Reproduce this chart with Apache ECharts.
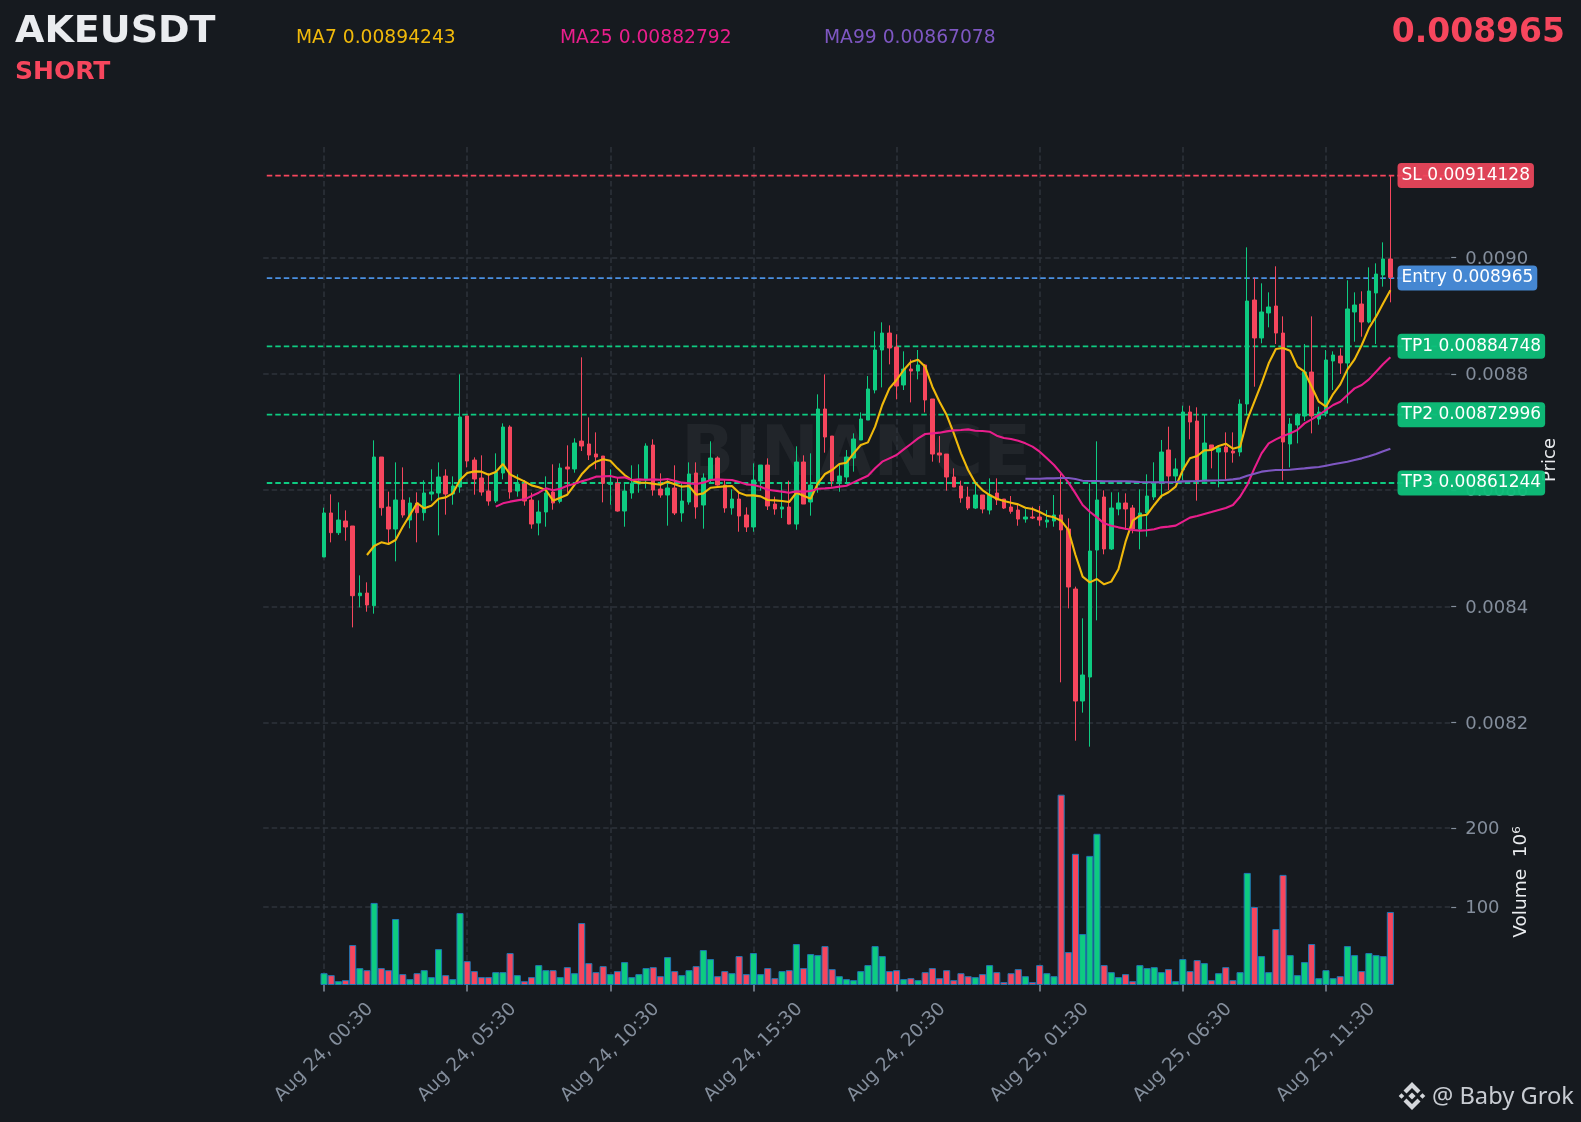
<!DOCTYPE html>
<html><head><meta charset="utf-8">
<style>html,body{margin:0;padding:0;background:#161a1f}#c{width:1581px;height:1122px}</style>
<script src="https://cdn.jsdelivr.net/npm/echarts@6/dist/echarts.min.js"></script>
</head><body><div id="c"></div>
<script>
// prices are in units of 1e-6 USDT
const opens=[8485.1,8560.8,8526.9,8547.0,8538.4,8418.5,8423.1,8401.3,8657.1,8571.1,8533.2,8583.1,8548.7,8578.0,8561.3,8593.4,8595.2,8624.4,8593.4,8605.5,
8727.6,8651.9,8621.0,8598.6,8581.4,8629.6,8708.7,8598.6,8610.6,8583.1,8543.5,8562.5,8596.9,8580.8,8639.9,8636.5,8684.6,8679.5,8662.3,8658.8,
8610.1,8611.8,8564.2,8595.2,8610.6,8617.5,8677.7,8602.0,8591.7,8603.8,8560.8,8579.7,8629.6,8574.5,8617.5,8655.4,8608.9,8569.4,8584.8,8557.3,
8536.7,8615.8,8643.3,8576.2,8567.6,8571.1,8541.8,8648.5,8579.7,8608.9,8739.7,8693.2,8615.2,8622.7,8655.4,8686.3,8720.7,8772.4,8841.2,8870.4,
8846.3,8781.0,8808.5,8805.0,8815.4,8756.9,8664.0,8662.2,8622.7,8607.2,8588.3,8569.3,8591.7,8565.9,8595.1,8584.8,8571.1,8565.9,8550.4,8553.9,
8553.9,8545.2,8547.0,8557.4,8533.3,8430.0,8237.3,8278.6,8497.1,8588.3,8498.9,8567.7,8578.0,8569.4,8533.3,8560.8,8588.3,8614.1,8669.2,8624.4,
8634.8,8734.5,8719.0,8617.5,8677.8,8665.7,8674.3,8667.4,8665.7,8748.3,8927.2,8861.9,8904.9,8916.9,8870.4,8679.5,8712.2,8727.6,8803.3,8722.5,
8732.2,8822.3,8830.9,8818.8,8906.6,8920.3,8889.4,8939.3,8970.2,8997.8];
const closes=[8560.8,8526.9,8548.7,8536.7,8418.5,8423.1,8402.5,8657.1,8569.9,8533.2,8583.1,8557.3,8578.0,8561.3,8595.2,8596.9,8622.7,8593.4,8607.2,8725.9,
8650.2,8619.3,8596.9,8581.4,8631.3,8708.7,8596.9,8610.6,8581.4,8541.8,8562.5,8595.2,8578.0,8638.2,8636.5,8681.2,8676.0,8660.5,8657.1,8611.8,
8613.5,8564.2,8598.6,8611.8,8614.7,8676.0,8600.3,8591.7,8603.8,8560.8,8581.4,8627.9,8571.1,8621.0,8655.4,8608.9,8569.4,8584.8,8555.6,8536.7,
8617.5,8643.3,8572.8,8567.6,8571.1,8541.8,8648.5,8576.2,8608.9,8739.7,8691.5,8615.8,8624.4,8657.1,8688.1,8722.5,8774.1,8841.2,8870.4,8844.6,
8779.2,8808.5,8805.0,8815.4,8755.2,8662.2,8660.5,8622.7,8605.5,8586.6,8569.3,8591.7,8567.6,8591.7,8583.1,8569.3,8563.6,8550.4,8553.9,8552.1,
8548.7,8548.7,8557.3,8531.6,8433.5,8237.3,8282.1,8495.4,8583.2,8498.9,8569.4,8578.0,8567.7,8533.3,8560.8,8590.0,8612.4,8665.7,8624.4,8636.5,
8734.5,8717.3,8617.5,8681.2,8669.2,8672.6,8665.7,8664.0,8748.3,8925.5,8861.9,8906.6,8915.2,8870.4,8682.9,8713.9,8729.4,8803.3,8727.6,8734.5,
8824.0,8832.6,8818.8,8911.8,8918.6,8889.4,8942.7,8971.9,8997.8,8966.2];
const lows=[8485.1,8510.3,8522.9,8513.2,8364.0,8398.5,8391.0,8387.6,8556.2,8508.6,8477.6,8552.7,8534.4,8510.3,8547.6,8582.0,8522.3,8557.9,8575.1,8595.7,
8639.3,8592.3,8590.6,8573.4,8578.0,8618.7,8585.4,8588.9,8573.4,8533.8,8522.3,8537.2,8566.5,8577.4,8595.7,8630.1,8667.4,8651.9,8635.9,8579.1,
8575.1,8563.1,8537.2,8585.4,8595.7,8603.2,8590.6,8587.1,8539.0,8557.3,8545.8,8575.1,8551.0,8533.8,8611.8,8607.8,8561.3,8557.9,8528.6,8528.1,
8528.6,8599.2,8565.9,8557.9,8552.1,8541.3,8532.1,8576.2,8556.2,8595.7,8664.6,8606.1,8597.4,8614.1,8631.9,8686.3,8720.7,8766.6,8776.9,8816.5,
8756.3,8772.4,8751.1,8790.7,8733.9,8649.1,8647.3,8599.2,8605.5,8578.5,8565.9,8567.6,8560.2,8558.4,8574.5,8567.6,8559.6,8538.9,8544.1,8550.4,
8538.9,8535.5,8537.2,8269.5,8396.8,8169.1,8217.3,8158.8,8376.1,8489.7,8497.1,8556.8,8531.6,8525.8,8498.3,8520.1,8583.2,8586.0,8600.3,8611.8,
8617.5,8687.5,8582.0,8615.2,8637.6,8604.9,8617.5,8647.4,8658.3,8729.4,8778.1,8852.7,8880.2,8851.5,8616.9,8639.3,8680.6,8719.0,8697.8,8712.7,
8726.5,8772.4,8799.9,8749.4,8855.5,8864.1,8887.1,8851.5,8950.2,8923.2];
const highs=[8569.9,8592.9,8579.1,8565.3,8538.4,8453.5,8441.5,8685.8,8657.1,8597.5,8647.9,8639.3,8587.7,8596.3,8617.0,8635.9,8647.9,8635.9,8623.8,8799.3,
8727.6,8656.5,8660.0,8629.0,8663.4,8715.0,8711.6,8627.3,8617.5,8595.7,8582.5,8623.8,8644.5,8646.2,8677.2,8689.2,8828.6,8725.3,8699.5,8658.8,
8635.9,8622.1,8610.6,8642.8,8644.5,8680.6,8687.5,8629.0,8617.5,8642.8,8611.8,8647.9,8647.9,8629.0,8684.1,8658.2,8617.5,8601.5,8595.7,8570.5,
8646.2,8643.3,8654.8,8588.9,8611.8,8616.4,8675.5,8660.0,8663.4,8764.9,8799.3,8693.2,8643.3,8669.1,8697.8,8733.9,8796.4,8873.3,8888.8,8883.6,
8868.1,8838.9,8825.1,8841.2,8817.1,8756.9,8693.2,8662.2,8637.6,8616.4,8606.0,8612.9,8591.7,8620.4,8620.4,8584.8,8590.0,8574.5,8567.6,8571.6,
8572.8,8565.9,8591.7,8627.9,8551.6,8434.1,8379.6,8611.8,8684.1,8599.8,8596.4,8596.4,8594.6,8574.6,8601.5,8627.3,8648.0,8686.4,8709.3,8654.8,
8745.4,8745.4,8742.6,8729.4,8677.8,8674.9,8699.5,8699.5,8756.3,9017.8,8965.7,8955.9,8940.4,8985.2,8899.1,8724.2,8732.2,8851.5,8899.1,8743.7,
8841.2,8838.9,8844.1,8961.1,8940.4,8942.2,8983.4,8990.3,9026.4,9141.3];
// volume in units of 1e6
const volumes=[16.5,14.0,6.4,7.7,52.0,22.9,20.3,105.2,22.9,20.3,84.9,15.3,9.0,16.5,20.3,11.5,46.9,14.0,9.0,92.5,
31.7,19.1,11.5,11.5,17.8,17.8,41.9,14.0,6.4,11.5,26.7,20.3,20.3,11.5,24.1,16.5,79.8,29.2,17.8,25.4,
15.3,19.1,30.5,11.5,15.3,22.9,24.1,12.7,36.8,19.1,14.0,20.3,25.4,45.7,34.3,12.7,19.1,16.5,38.1,15.3,
41.9,15.3,22.9,10.2,19.1,20.3,53.3,22.9,40.6,39.3,50.7,21.6,12.7,9.0,7.7,19.1,26.7,50.7,38.1,19.1,
20.3,9.0,10.2,7.7,17.8,22.9,10.2,20.3,7.7,16.5,12.7,11.5,15.3,26.7,17.8,5.2,16.5,21.6,12.7,5.2,
26.7,16.5,12.7,241.9,43.1,167.2,65.9,164.6,192.5,26.7,17.8,11.5,15.3,6.4,26.7,22.9,24.1,17.8,21.6,6.4,
34.3,19.1,33.0,29.2,7.7,16.5,24.1,7.7,17.8,143.1,100.1,38.1,17.8,72.2,140.6,39.3,14.0,30.5,53.3,10.2,
20.3,10.2,12.7,50.7,39.3,19.1,41.9,39.3,38.1,93.8];
// moving averages, each starting at candle MA*_START
const MA7_START=6, MA25_START=24, MA99_START=98;
const ma7=[8488.5,8504.0,8510.3,8507.4,8514.3,8537.2,8557.3,8578.0,8568.8,8573.4,8585.4,8587.7,8594.6,8617.5,8629.6,8632.4,8631.9,8626.7,8631.3,8645.1,
8627.3,8621.0,8615.2,8608.3,8604.9,8600.3,8582.0,8587.1,8592.3,8609.0,8627.3,8640.5,8649.1,8653.1,8650.8,8637.6,8626.1,8617.5,8612.9,8612.9,
8611.2,8609.5,8614.7,8610.1,8606.1,8607.2,8592.3,8594.6,8604.3,8605.5,8606.6,8607.2,8595.7,8591.1,8591.1,8589.4,8583.1,8582.5,8581.4,8579.7,
8595.7,8590.6,8585.4,8611.8,8627.9,8634.7,8645.1,8647.3,8663.4,8677.7,8682.3,8709.3,8746.6,8775.2,8789.6,8806.8,8820.5,8824.5,8812.5,8778.1,
8752.3,8729.3,8697.8,8663.4,8634.7,8612.9,8600.3,8591.7,8585.4,8581.4,8578.5,8575.6,8569.9,8567.6,8562.5,8556.2,8553.3,8547.5,8531.6,8488.5,
8451.3,8441.5,8447.2,8438.1,8442.7,8463.9,8511.5,8547.6,8556.2,8557.9,8574.6,8590.0,8596.4,8606.1,8634.8,8654.9,8658.9,8668.6,8669.2,8676.0,
8680.0,8671.4,8674.9,8720.8,8752.3,8783.9,8818.3,8842.9,8844.6,8840.0,8812.5,8803.9,8778.1,8752.3,8743.7,8765.5,8782.1,8807.9,8825.1,8849.8,
8878.5,8898.6,8921.5,8943.9];
const ma25=[8571.7,8577.4,8580.3,8582.5,8584.3,8590.0,8595.7,8603.2,8599.8,8602.6,8607.8,8611.2,8615.2,8618.7,8623.3,8623.8,8624.4,8621.5,8622.1,8617.5,
8618.7,8618.1,8618.7,8618.1,8619.3,8616.4,8613.0,8611.8,8610.6,8613.0,8617.5,8618.7,8618.1,8617.5,8614.1,8610.1,8608.9,8606.1,8600.9,8599.2,
8597.5,8595.7,8598.0,8597.5,8598.6,8602.6,8603.2,8604.3,8606.1,8607.8,8613.5,8619.2,8625.0,8637.6,8649.1,8654.8,8660.5,8670.3,8679.5,8689.2,
8696.7,8697.8,8699.0,8701.2,8703.0,8703.5,8704.7,8702.4,8701.8,8700.7,8693.8,8689.8,8688.1,8685.2,8680.6,8674.9,8666.3,8654.8,8643.3,8629.0,
8613.5,8594.6,8574.5,8563.0,8553.3,8543.0,8539.0,8536.1,8533.8,8531.6,8530.4,8531.0,8532.7,8536.1,8537.3,8539.0,8545.9,8552.8,8555.6,8559.1,
8562.5,8566.0,8569.4,8574.6,8588.8,8608.9,8637.6,8663.4,8680.6,8687.5,8693.2,8697.8,8703.6,8715.0,8721.9,8729.4,8738.0,8746.6,8752.3,8763.8,
8775.2,8781.0,8790.7,8803.9,8817.1,8828.6];
const ma99=[8619.8,8619.8,8619.8,8620.4,8620.4,8621.0,8621.0,8619.2,8616.4,8615.8,8615.8,8615.3,8615.3,8615.3,8615.3,8614.7,8614.1,8613.6,8613.6,8613.5,
8613.8,8614.1,8615.2,8615.3,8615.8,8616.4,8616.7,8617.0,8617.5,8618.7,8620.4,8625.0,8628.4,8631.9,8633.6,8634.8,8634.8,8635.3,8636.5,8637.6,
8638.8,8639.9,8642.2,8644.5,8646.8,8649.1,8652.0,8654.8,8658.3,8662.3,8666.9,8671.4];
const tickLabels=['Aug 24, 00:30','Aug 24, 05:30','Aug 24, 10:30','Aug 24, 15:30','Aug 24, 20:30','Aug 25, 01:30','Aug 25, 06:30','Aug 25, 11:30'];
const priceTicks=[0.0082,0.0084,0.0086,0.0088,0.0090];
const volumeTicks=[100,200];
const levelNames=['SL','Entry','TP1','TP2','TP3'];
const levelValues=[0.00914128,0.008965,0.00884748,0.00872996,0.00861244];
const levelTexts=['0.00914128','0.008965','0.00884748','0.00872996','0.00861244'];
const levelLine=['#f6465d','#4a90e2','#0ecb81','#0ecb81','#0ecb81'];
const levelBox=['rgba(240,70,92,0.92)','rgba(74,144,226,0.92)','rgba(14,192,122,0.95)','rgba(14,192,122,0.95)','rgba(14,192,122,0.95)'];

const PAD=8, TICK_STEP=20, LABEL_SLOT=158;
const n=opens.length, total=n+PAD*2;
const U=1e-6;
const cats=[];for(let i=0;i<total;i++){const k=i-PAD;cats.push(k>=0&&k%TICK_STEP===0&&tickLabels[k/TICK_STEP]?tickLabels[k/TICK_STEP]:'c'+i);}
const isTick=i=>{const k=i-PAD;return k>=0&&k%TICK_STEP===0&&k/TICK_STEP<tickLabels.length;};
const GREEN='#0ecb81',RED='#f6465d';
const candle=[],vol=[];
for(let i=0;i<total;i++){const k=i-PAD;
  if(k<0||k>=n){candle.push(['-','-','-','-']);vol.push('-');continue;}
  candle.push([opens[k]*U,closes[k]*U,lows[k]*U,highs[k]*U]);
  vol.push({value:volumes[k],itemStyle:{color:closes[k]>=opens[k]?GREEN:RED}});
}
const maData=(arr,start)=>{const o=[];for(let i=0;i<total;i++){const k=i-PAD-start;o.push(k>=0&&k<arr.length?arr[k]*U:'-');}return o;};
const F='"DejaVu Sans"';
const GRID='#2e333b';
const GRID_DASH=[5.5,3];
const lineSeries=(name,arr,start,color)=>({name,type:'line',xAxisIndex:0,yAxisIndex:0,data:maData(arr,start),symbol:'none',connectNulls:false,z:6,
  lineStyle:{color,width:2.1},itemStyle:{color},animation:false});
const levelSeries=levelValues.map((v,i)=>({name:levelNames[i]+' line',type:'line',xAxisIndex:0,yAxisIndex:0,data:cats.map(()=>v),symbol:'none',z:3,silent:true,
  lineStyle:{color:levelLine[i],width:1.8,type:[5.5,3],opacity:1},itemStyle:{color:levelLine[i]}}));
const txt=(text,x,y,size,color,weight)=>({type:'text',x,y,z:60,silent:true,style:{text,fill:color,font:(weight||'normal')+' '+size+'px '+F,textAlign:'left',textVerticalAlign:'middle'}});
const LOGO='#d4d7db';
const dia=(cx,cy,r)=>({type:'polygon',z:60,silent:true,shape:{points:[[cx,cy-r],[cx+r,cy],[cx,cy+r],[cx-r,cy]]},style:{fill:LOGO}});
const LX=1412,LY=1096;
const chev=s=>({type:'polygon',z:60,silent:true,shape:{points:[[LX,LY+s*14],[LX+8.5,LY+s*5.5],[LX+5.5,LY+s*2.5],[LX,LY+s*8],[LX-5.5,LY+s*2.5],[LX-8.5,LY+s*5.5]]},style:{fill:LOGO}});
const opt={
 backgroundColor:'#161a1f',animation:false,
 grid:[{left:263.2,width:1188,top:147,height:638,containLabel:false},{left:263.2,width:1188,top:785,height:199.5,containLabel:false}],
 xAxis:[
  {type:'category',gridIndex:0,data:cats,boundaryGap:true,axisLine:{show:false},axisTick:{show:false,alignWithLabel:true,interval:isTick},axisLabel:{show:false,interval:isTick},
   splitLine:{show:true,alignWithLabel:true,interval:isTick,lineStyle:{color:GRID,width:1.5,type:GRID_DASH}}},
  {type:'category',gridIndex:1,data:cats,boundaryGap:true,axisLine:{show:false},axisTick:{show:true,alignWithLabel:true,interval:isTick,length:7,lineStyle:{color:'#848e9c',width:1.5}},
   axisLabel:{show:true,interval:isTick,rotate:45,align:'center',verticalAlign:'middle',margin:68,color:'#848e9c',fontSize:18.5,fontFamily:F,hideOverlap:false},
   splitLine:{show:true,alignWithLabel:true,interval:isTick,lineStyle:{color:GRID,width:1.5,type:GRID_DASH}}}
 ],
 yAxis:[
  {type:'value',gridIndex:0,position:'right',min:0.00809284,max:0.00919045,scale:true,axisLine:{show:false},
   axisTick:{show:true,length:5,customValues:priceTicks,lineStyle:{color:'#848e9c',width:1.2}},
   axisLabel:{show:true,margin:14,verticalAlign:'top',lineHeight:3,customValues:priceTicks,color:'#848e9c',fontSize:18,fontFamily:F,formatter:v=>v.toFixed(4)},
   splitLine:{show:true,lineStyle:{color:GRID,width:1.5,type:GRID_DASH}}},
  {type:'value',gridIndex:1,position:'right',min:2.2,max:254.1,axisLine:{show:false},
   axisTick:{show:true,length:5,customValues:volumeTicks,lineStyle:{color:'#848e9c',width:1.2}},
   axisLabel:{show:true,margin:14,verticalAlign:'top',lineHeight:3,customValues:volumeTicks,color:'#848e9c',fontSize:18,fontFamily:F},
   splitLine:{show:true,lineStyle:{color:GRID,width:1.5,type:GRID_DASH}}}
 ],
 series:[
  ...levelSeries,
  {name:'Levels',type:'scatter',xAxisIndex:0,yAxisIndex:0,z:50,symbolSize:0.01,silent:true,itemStyle:{opacity:1},
   data:levelValues.map((v,i)=>({value:[LABEL_SLOT,v],label:{backgroundColor:levelBox[i],formatter:levelNames[i]+' '+levelTexts[i]}})),
   label:{show:true,position:'right',distance:0,color:'#fff',fontSize:17,fontFamily:F,padding:[4,4,4,4],borderRadius:4}},
  {name:'Price',type:'candlestick',xAxisIndex:0,yAxisIndex:0,barWidth:4,z:4,data:candle,
   itemStyle:{color:GREEN,color0:RED,borderColor:GREEN,borderColor0:RED,borderWidth:1}},
  lineSeries('MA7',ma7,MA7_START,'#f0b90b'),
  lineSeries('MA25',ma25,MA25_START,'#e91e8c'),
  lineSeries('MA99',ma99,MA99_START,'#7e57c2'),
  {name:'Volume',type:'bar',xAxisIndex:1,yAxisIndex:1,data:vol,barWidth:7.1,itemStyle:{borderColor:'#1f77b4',borderWidth:1}}
 ],
 graphic:{elements:[
  {type:'text',x:856,y:457,z:-1,silent:true,style:{text:'BINANCE',fill:'#21252a',font:'bold 70px '+F,textAlign:'center',textVerticalAlign:'middle'}},
  txt('AKEUSDT',15,32,38,'#eaecef','bold'),
  txt('SHORT',15,72.5,25,RED,'bold'),
  txt('MA7 0.00894243',296,38,18.7,'#f0b90b'),
  txt('MA25 0.00882792',560,38,18.7,'#e91e8c'),
  txt('MA99 0.00867078',824,38,18.7,'#7e57c2'),
  {type:'text',x:1565,y:33,z:60,silent:true,style:{text:'0.008965',fill:RED,font:'bold 33px '+F,textAlign:'right',textVerticalAlign:'middle'}},
  {type:'text',x:1550,y:460,z:40,rotation:Math.PI/2,silent:true,style:{text:'Price',fill:'#eaecef',font:'18px '+F,textAlign:'center',textVerticalAlign:'middle'}},
  {type:'text',x:1521,y:882,z:40,rotation:Math.PI/2,silent:true,style:{text:'Volume  10⁶',fill:'#eaecef',font:'18.5px '+F,textAlign:'center',textVerticalAlign:'middle'}},
  chev(-1),chev(1),dia(LX,LY,3.6),dia(LX-10.5,LY,2.8),dia(LX+10.5,LY,2.8),
  {type:'text',x:1432,y:1097,z:60,silent:true,style:{text:'@ Baby Grok',fill:'#c8ccd2',font:'23.7px "Noto Sans"',textAlign:'left',textVerticalAlign:'middle'}}
 ]}
};
const chart=echarts.init(document.getElementById('c'),null,{renderer:'canvas',width:1581,height:1122});
chart.setOption(opt);
</script></body></html>
